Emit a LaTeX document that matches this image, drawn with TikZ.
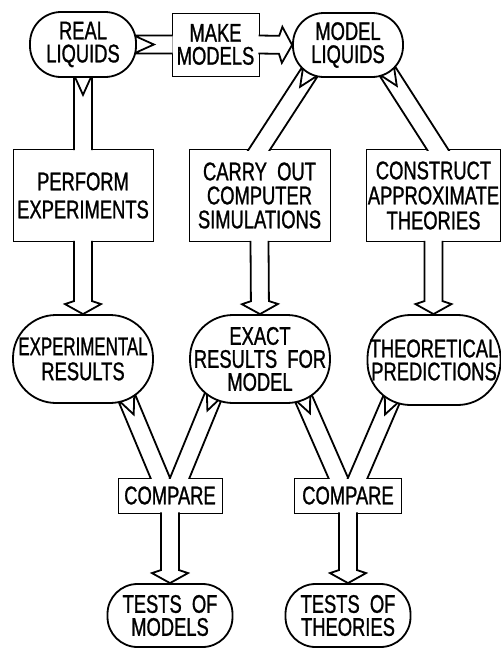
\documentclass[tikz,border=0pt]{standalone}
\usepackage{fontspec}
\setmainfont{Liberation Sans}[FakeStretch=0.72,WordSpace=2,FakeBold=1]
\usetikzlibrary{calc}

\pgfdeclarelayer{boxes}
\pgfdeclarelayer{bands}
\pgfsetlayers{boxes,bands,main}

\newcommand{\notchband}[2]{%
  \coordinate (bS) at (#1);
  \coordinate (bE) at (#2);
  \coordinate (bN) at ($(bS)!20pt!(bE)$);
  \coordinate (bSl) at ($(bS)!9pt!90:(bE)$);
  \coordinate (bSr) at ($(bS)!9pt!-90:(bE)$);
  \coordinate (bEl) at ($(bE)!9pt!-90:(bS)$);
  \coordinate (bEr) at ($(bE)!9pt!90:(bS)$);
  \fill[white] (bSl) -- (bN) -- (bSr) -- (bEr) -- (bEl) -- cycle;
  \draw[bandline] (bEl) -- (bSl) -- (bN) -- (bSr) -- (bEr);
}
\newcommand{\tipband}[2]{%
  \coordinate (bS) at (#1);
  \coordinate (bE) at (#2);
  \coordinate (bH) at ($(bE)!13pt!(bS)$);
  \coordinate (bF) at ($(bE)!10pt!(bS)$);
  \coordinate (bSl) at ($(bS)!9pt!90:(bE)$);
  \coordinate (bSr) at ($(bS)!9pt!-90:(bE)$);
  \coordinate (bHl) at ($(bH)!9pt!90:(bE)$);
  \coordinate (bHr) at ($(bH)!9pt!-90:(bE)$);
  \coordinate (bFl) at ($(bF)!18pt!90:(bE)$);
  \coordinate (bFr) at ($(bF)!18pt!-90:(bE)$);
  \fill[white] (bSl) -- (bHl) -- (bFl) -- (bE) -- (bFr) -- (bHr) -- (bSr) -- cycle;
  \draw[bandline] (bSl) -- (bHl) -- (bFl) -- (bE) -- (bFr) -- (bHr) -- (bSr);
}

\begin{document}
\begin{tikzpicture}[x=1pt,y=-1pt,line width=1.8pt,
  every node/.style={align=center,inner sep=0pt,font=\fontsize{25.5}{23}\selectfont},
  oval/.style={draw,fill=white,rounded corners=#1},
  task/.style={draw,fill=white},
  skip/.style={font=\fontsize{25.5}{#1}\selectfont},
  bandline/.style={line width=1.8pt}]
\useasboundingbox (0,0) rectangle (501,649);
\node[oval=31pt,minimum width=106pt,minimum height=65pt] (RL) at (83,44.5) {REAL\\LIQUIDS};
\node[oval=31pt,minimum width=110pt,minimum height=64pt] (ML) at (348,45) {MODEL\\LIQUIDS};
\node[oval=43pt,minimum width=140pt,minimum height=88pt,skip=25] (ER) at (83,359) {\scalebox{0.92}[1]{EXPERIMENTAL}\\RESULTS};
\node[oval=43pt,minimum width=140pt,minimum height=88pt,skip=23] (EX) at (260,359) {EXACT\\RESULTS FOR\\MODEL};
\node[oval=43pt,minimum width=133pt,minimum height=90pt,skip=23] (TP) at (434,360) {THEORETICAL\\PREDICTIONS};
\node[oval=30pt,minimum width=125pt,minimum height=63pt] (T1) at (170,615.5) {TESTS OF\\MODELS};
\node[oval=30pt,minimum width=125pt,minimum height=63pt] (T2) at (348,615.5) {TESTS OF\\THEORIES};
\begin{pgfonlayer}{boxes}
\node[task,minimum width=87pt,minimum height=63pt] (MM) at (215.5,44.5) {MAKE\\MODELS};
\node[task,minimum width=140pt,minimum height=92pt,skip=28] (PE) at (83,195.5) {PERFORM\\EXPERIMENTS};
\node[task,minimum width=141pt,minimum height=92pt,skip=24] (CS) at (259.5,195.5) {CARRY OUT\\COMPUTER\\SIMULATIONS};
\node[task,minimum width=134pt,minimum height=92pt,skip=25] (CA) at (433.5,195.5) {CONSTRUCT\\APPROXIMATE\\THEORIES};
\node[task,minimum width=104pt,minimum height=35pt] (C1) at (170,495.5) {COMPARE};
\node[task,minimum width=107pt,minimum height=35pt] (C2) at (348,495.5) {COMPARE};
\end{pgfonlayer}
\begin{pgfonlayer}{bands}
\notchband{$(RL.east)+(-3,0)$}{$(MM.west)+(0.8,0)$}
\tipband{$(MM.east)+(-0.8,0)$}{ML.west}
\notchband{$(RL.south)+(0,-3)$}{$(PE.north)+(0,0.8)$}
\tipband{$(PE.south)+(0,-0.8)$}{ER.north}
\tipband{$(CS.south)+(0,-0.8)$}{EX.north}
\tipband{$(CA.south)+(0,-0.8)$}{CA.south |- TP.north}
\tipband{$(C1.south)+(0,-0.8)$}{T1.north}
\tipband{$(C2.south)+(0,-0.8)$}{T2.north}
\begin{scope}
\clip (0,0) rectangle ($(CS.north)+(501,0.8)$);
\coordinate (mlA) at ($(ML)+(-37,25)$);
\notchband{mlA}{$(mlA)!1.15!(CS.north)$}
\coordinate (mlB) at ($(ML)+(38,24)$);
\coordinate (caT) at ($(CA.north)+(4,0)$);
\notchband{mlB}{$(mlB)!1.15!(caT)$}
\end{scope}
\begin{scope}
\clip (0,0) rectangle ($(C1.north)+(501,0.8)$);
\coordinate (erA) at ($(ER)+(43,37)$);
\coordinate (c1L) at ($(C1.north)+(-9.8,0)$);
\notchband{erA}{$(erA)!1.15!(c1L)$}
\coordinate (exA) at ($(EX)+(-45,33)$);
\coordinate (c1R) at ($(C1.north)+(9.8,0)$);
\notchband{exA}{$(exA)!1.15!(c1R)$}
\coordinate (exB) at ($(EX)+(42,36)$);
\coordinate (c2L) at ($(C2.north)+(-9.8,0)$);
\notchband{exB}{$(exB)!1.15!(c2L)$}
\coordinate (tpA) at ($(TP)+(-41,36)$);
\coordinate (c2R) at ($(C2.north)+(9.8,0)$);
\notchband{tpA}{$(tpA)!1.15!(c2R)$}
\end{scope}
\end{pgfonlayer}
\end{tikzpicture}
\end{document}
